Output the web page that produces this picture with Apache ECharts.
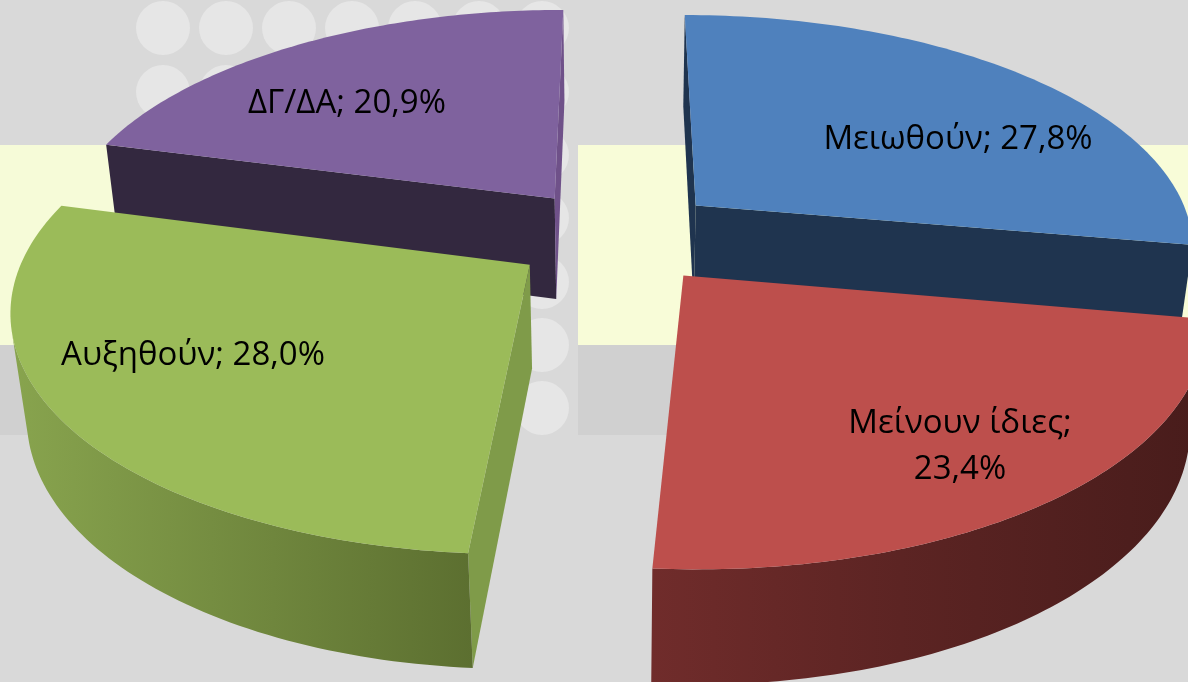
<!DOCTYPE html>
<html><head><meta charset="utf-8">
<style>html,body{margin:0;padding:0;background:#d9d9d9}#c{width:1188px;height:682px}</style>
<script src="https://cdn.jsdelivr.net/npm/echarts@6/dist/echarts.min.js"></script>
</head><body><div id="c"></div>
<script>
// Data
const categories = ['Μειωθούν', 'Μείνουν ίδιες', 'Αυξηθούν', 'ΔΓ/ΔΑ'];
const values = [27.8, 23.4, 28.0, 20.9];
const labelSeparators = ['; ', ';\n', '; ', '; '];

// Styles and layout
const topColors = ['#4f81bd', '#bd4f4c', '#9bbb59', '#7f629e'];
const startFaceColors = ['#1f344f', '#4f1f1e', '#7f9b49', '#33283f'];
const endFaceColors = ['#1f344f', '#4f1f1e', '#7f9b49', '#6f5189'];
const wallStops = [
  [{ offset: 0, color: '#1f344f' }, { offset: 1, color: '#1f344f' }],
  [{ offset: 0, color: '#702c2b' }, { offset: 0.45, color: '#5c2423' }, { offset: 1, color: '#481c1b' }],
  [{ offset: 0, color: '#88a44e' }, { offset: 1, color: '#5c6f30' }],
  [{ offset: 0, color: '#33283f' }, { offset: 1, color: '#33283f' }]
];
const drawOrder = [1, 3, 2, 0]; // z rank per slice: purple, blue, green, red
const labelCentres = [[958, 140], [960, 447], [193, 356], [347, 104]];
const cam = { cx: 617, cy: 236, k: 0.00033, h: 0.463, R: 499, explode: 105, depth: 105, persp: 0.00025 };

function project(X, Y, D) {
  const w = 1 + cam.k * Y + cam.persp * D;
  return [cam.cx + X / w, cam.cy + (-cam.h * Y + D) / w];
}
function shoelace(p) {
  let s = 0;
  for (let i = 0; i < p.length; i++) {
    const a = p[i], b = p[(i + 1) % p.length];
    s += a[0] * b[1] - b[0] * a[1];
  }
  return s;
}
const total = values.reduce((a, b) => a + b, 0);

function renderSlice(params, api) {
  const i = api.value(1);
  const start = values.slice(0, i).reduce((a, b) => a + b, 0) / total * 2 * Math.PI;
  const end = start + api.value(0) / total * 2 * Math.PI;
  const mid = (start + end) / 2;
  const ox = cam.explode * Math.sin(mid), oy = cam.explode * Math.cos(mid);
  const D = cam.depth;
  const pt = (a, d) => project(ox + cam.R * Math.sin(a), oy + cam.R * Math.cos(a), d);
  const apexT = project(ox, oy, 0), apexB = project(ox, oy, D);
  const N = 90, rimT = [], rimB = [];
  for (let n = 0; n <= N; n++) {
    const a = start + (end - start) * n / N;
    rimT.push(pt(a, 0));
    rimB.push(pt(a, D));
  }
  const base = drawOrder[i] * 10 + 1;
  const children = [];
  const face = (pts, fill, z) => children.push({ type: 'polygon', z2: base + z, shape: { points: pts }, style: { fill: fill } });

  // radial cut faces (only those turned towards the viewer)
  const f1 = [apexT, rimT[0], rimB[0], apexB];
  const f2 = [rimT[N], apexT, apexB, rimB[N]];
  if (shoelace(f1) < 0) face(f1, startFaceColors[i], 0);
  if (shoelace(f2) < 0) face(f2, endFaceColors[i], 0);

  // outer rim wall: contiguous visible run
  let from = -1, to = -1;
  for (let n = 0; n < N; n++) {
    if (shoelace([rimT[n], rimT[n + 1], rimB[n + 1], rimB[n]]) < 0) {
      if (from < 0) from = n;
      to = n + 1;
    }
  }
  if (from >= 0) {
    const wall = rimT.slice(from, to + 1).concat(rimB.slice(from, to + 1).reverse());
    face(wall, new echarts.graphic.LinearGradient(0, 0, 1, 0, wallStops[i]), 1);
  }

  // top surface
  face([apexT].concat(rimT), topColors[i], 2);

  // label
  const num = api.value(0).toFixed(1).replace('.', ',');
  children.push({
    type: 'text', z2: 100,
    style: {
      x: labelCentres[i][0], y: labelCentres[i][1],
      text: categories[i] + labelSeparators[i] + num + '%',
      fill: '#000', align: 'center', verticalAlign: 'middle',
      font: '400 33px "Open Sans"', lineHeight: 46
    }
  });
  return { type: 'group', children: children };
}

// Decorative backdrop
const backdrop = [
  { type: 'rect', shape: { x: 0, y: 0, width: 1188, height: 682 }, style: { fill: '#d9d9d9' } },
  { type: 'rect', shape: { x: 0, y: 145, width: 134, height: 200 }, style: { fill: '#f6fbd8' } },
  { type: 'rect', shape: { x: 578, y: 145, width: 610, height: 200 }, style: { fill: '#f8fcd8' } },
  { type: 'rect', shape: { x: 0, y: 345, width: 134, height: 90 }, style: { fill: '#d0d0d0' } },
  { type: 'rect', shape: { x: 578, y: 345, width: 610, height: 90 }, style: { fill: '#d0d0d0' } }
];
const dotCols = [163, 226, 289, 352, 415, 479, 542];
const dotRows = [28, 92, 155, 218, 282, 345, 408];
dotCols.forEach(x => dotRows.forEach(y => backdrop.push({
  type: 'circle', shape: { cx: x, cy: y, r: 27 }, style: { fill: '#e6e6e6' }
})));

const chart = echarts.init(document.getElementById('c'), null, { renderer: 'canvas', width: 1188, height: 682 });
chart.setOption({
  animation: false,
  backgroundColor: '#d9d9d9',
  graphic: { elements: backdrop.map(e => Object.assign({ silent: true, z: -10 }, e)) },
  series: [{
    type: 'custom',
    coordinateSystem: 'none',
    silent: true,
    clip: false,
    renderItem: renderSlice,
    encode: { value: 0 },
    data: values.map((v, i) => ({ name: categories[i], value: [v, i] }))
  }]
});
</script></body></html>
